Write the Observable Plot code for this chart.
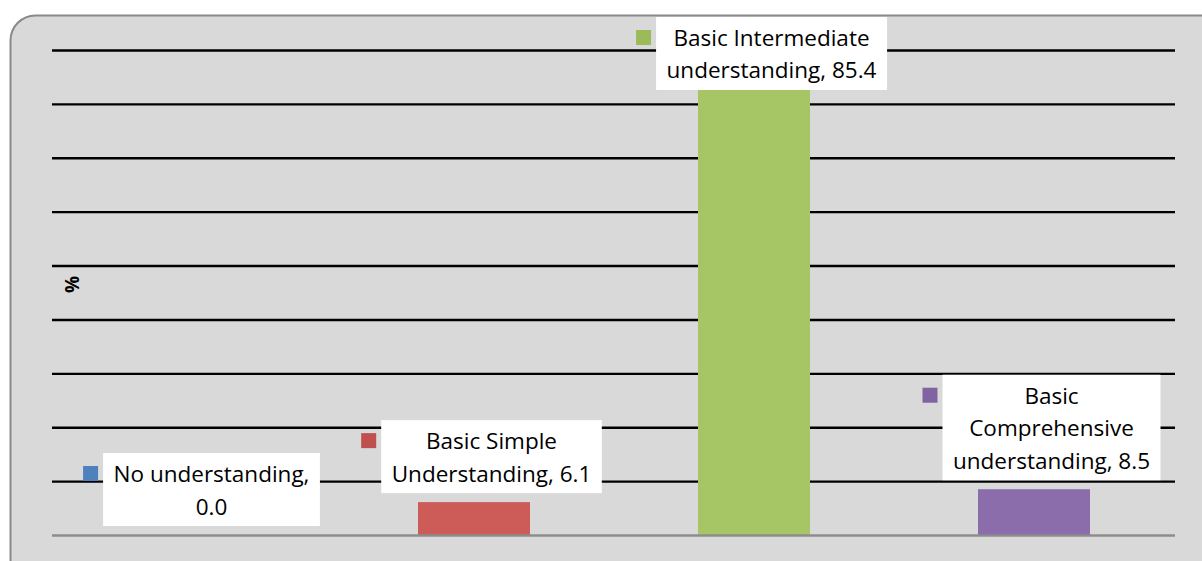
<!DOCTYPE html>
<html>
<head>
<meta charset="utf-8">
<script src="https://cdn.jsdelivr.net/npm/d3@7"></script>
<script src="https://cdn.jsdelivr.net/npm/@observablehq/plot@0.6"></script>
<style>
  html, body { margin: 0; padding: 0; background: #ffffff; }
  #chart svg { display: block; }
</style>
</head>
<body>
<div id="chart"></div>
<script>
// Levels of understanding (percent of respondents)
const categories = [
  "No understanding",
  "Basic Simple Understanding",
  "Basic Intermediate understanding",
  "Basic Comprehensive understanding"
];
const values = [0.0, 6.1, 85.4, 8.5];
// Wrapped label text for each category; the value is appended after it
const labelHeads = [
  "No understanding,\n",
  "Basic Simple\nUnderstanding, ",
  "Basic Intermediate\nunderstanding, ",
  "Basic\nComprehensive\nunderstanding, "
];
const barColors = ["#5a8ac6", "#cd5b57", "#a6c565", "#8b6dac"];
const keyColors = ["#4f81bd", "#c0504d", "#9bbb59", "#8064a2"];
const gridTicks = [10, 20, 30, 40, 50, 60, 70, 80, 90];

const data = categories.map((c, i) => ({
  category: c,
  value: values[i],
  label: labelHeads[i] + values[i].toFixed(1),
  bar: barColors[i],
  key: keyColors[i]
}));

const font = "'Open Sans', Lato, sans-serif";

const plot = Plot.plot({
  width: 1202,
  height: 561,
  marginLeft: 52,
  marginRight: 27,
  marginTop: 50,
  marginBottom: 26,
  style: { fontFamily: font, background: "#ffffff", overflow: "hidden" },
  x: { domain: categories, axis: null, paddingInner: 0.6, paddingOuter: 0.3 },
  y: { domain: [0, 90], axis: null },
  marks: [
    // chart area panel with rounded border
    Plot.frame({
      fill: "#d9d9d9", stroke: "#898989", strokeWidth: 2, rx: 25,
      insetLeft: -42, insetTop: -35, insetRight: -60, insetBottom: -60
    }),
    Plot.ruleY(gridTicks, { stroke: "#000000", strokeWidth: 2.4 }),
    Plot.barY(data, { x: "category", y: "value", fill: "bar" }),
    Plot.ruleY([0], { stroke: "#8c8c8c", strokeWidth: 2.6 }),
    Plot.text(["%"], {
      frameAnchor: "left", dx: 20, rotate: -90,
      fontWeight: "bold", fontSize: 19, fill: "#000000"
    }),
    Plot.text(data, {
      x: "category", y: "value", text: "label",
      lineAnchor: "bottom", lineHeight: 1.444, fontSize: 22.5,
      dx: 17, dy: -17, fill: "#000000"
    })
  ]
});

document.getElementById("chart").appendChild(plot);

// White label boxes with a colour key square, placed just above each bar
const yScale = plot.scale("y");
const padX = 10.5, padTop = 5, padBottom = 4.5, gap = 9, topLimit = 17;
const textGroups = plot.querySelectorAll('g[aria-label="text"]');
const labelGroup = textGroups[textGroups.length - 1];
const boxLayer = document.createElementNS("http://www.w3.org/2000/svg", "g");
labelGroup.parentNode.insertBefore(boxLayer, labelGroup);
const origin = plot.getBoundingClientRect();
Array.from(labelGroup.querySelectorAll(":scope > text")).forEach((node, i) => {
  const r = node.getBoundingClientRect();
  const left = r.left - origin.left;
  const top = r.top - origin.top;
  const bottom = top + r.height;
  const barTop = yScale.apply(data[i].value);
  let shift = (barTop - gap - padBottom) - bottom;
  if (top + shift - padTop < topLimit) shift = topLimit + padTop - top;
  const tr = node.getAttribute("transform") || "";
  node.setAttribute("transform", `translate(0,${shift}) ${tr}`);
  d3.select(boxLayer).append("rect")
    .attr("x", left - padX)
    .attr("y", top + shift - padTop)
    .attr("width", r.width + 2 * padX)
    .attr("height", r.height + padTop + padBottom)
    .attr("fill", "#ffffff");
  d3.select(boxLayer).append("rect")
    .attr("x", left - padX - 20)
    .attr("y", top + shift - padTop + 13)
    .attr("width", 15)
    .attr("height", 15)
    .attr("fill", data[i].key);
});
</script>
</body>
</html>
